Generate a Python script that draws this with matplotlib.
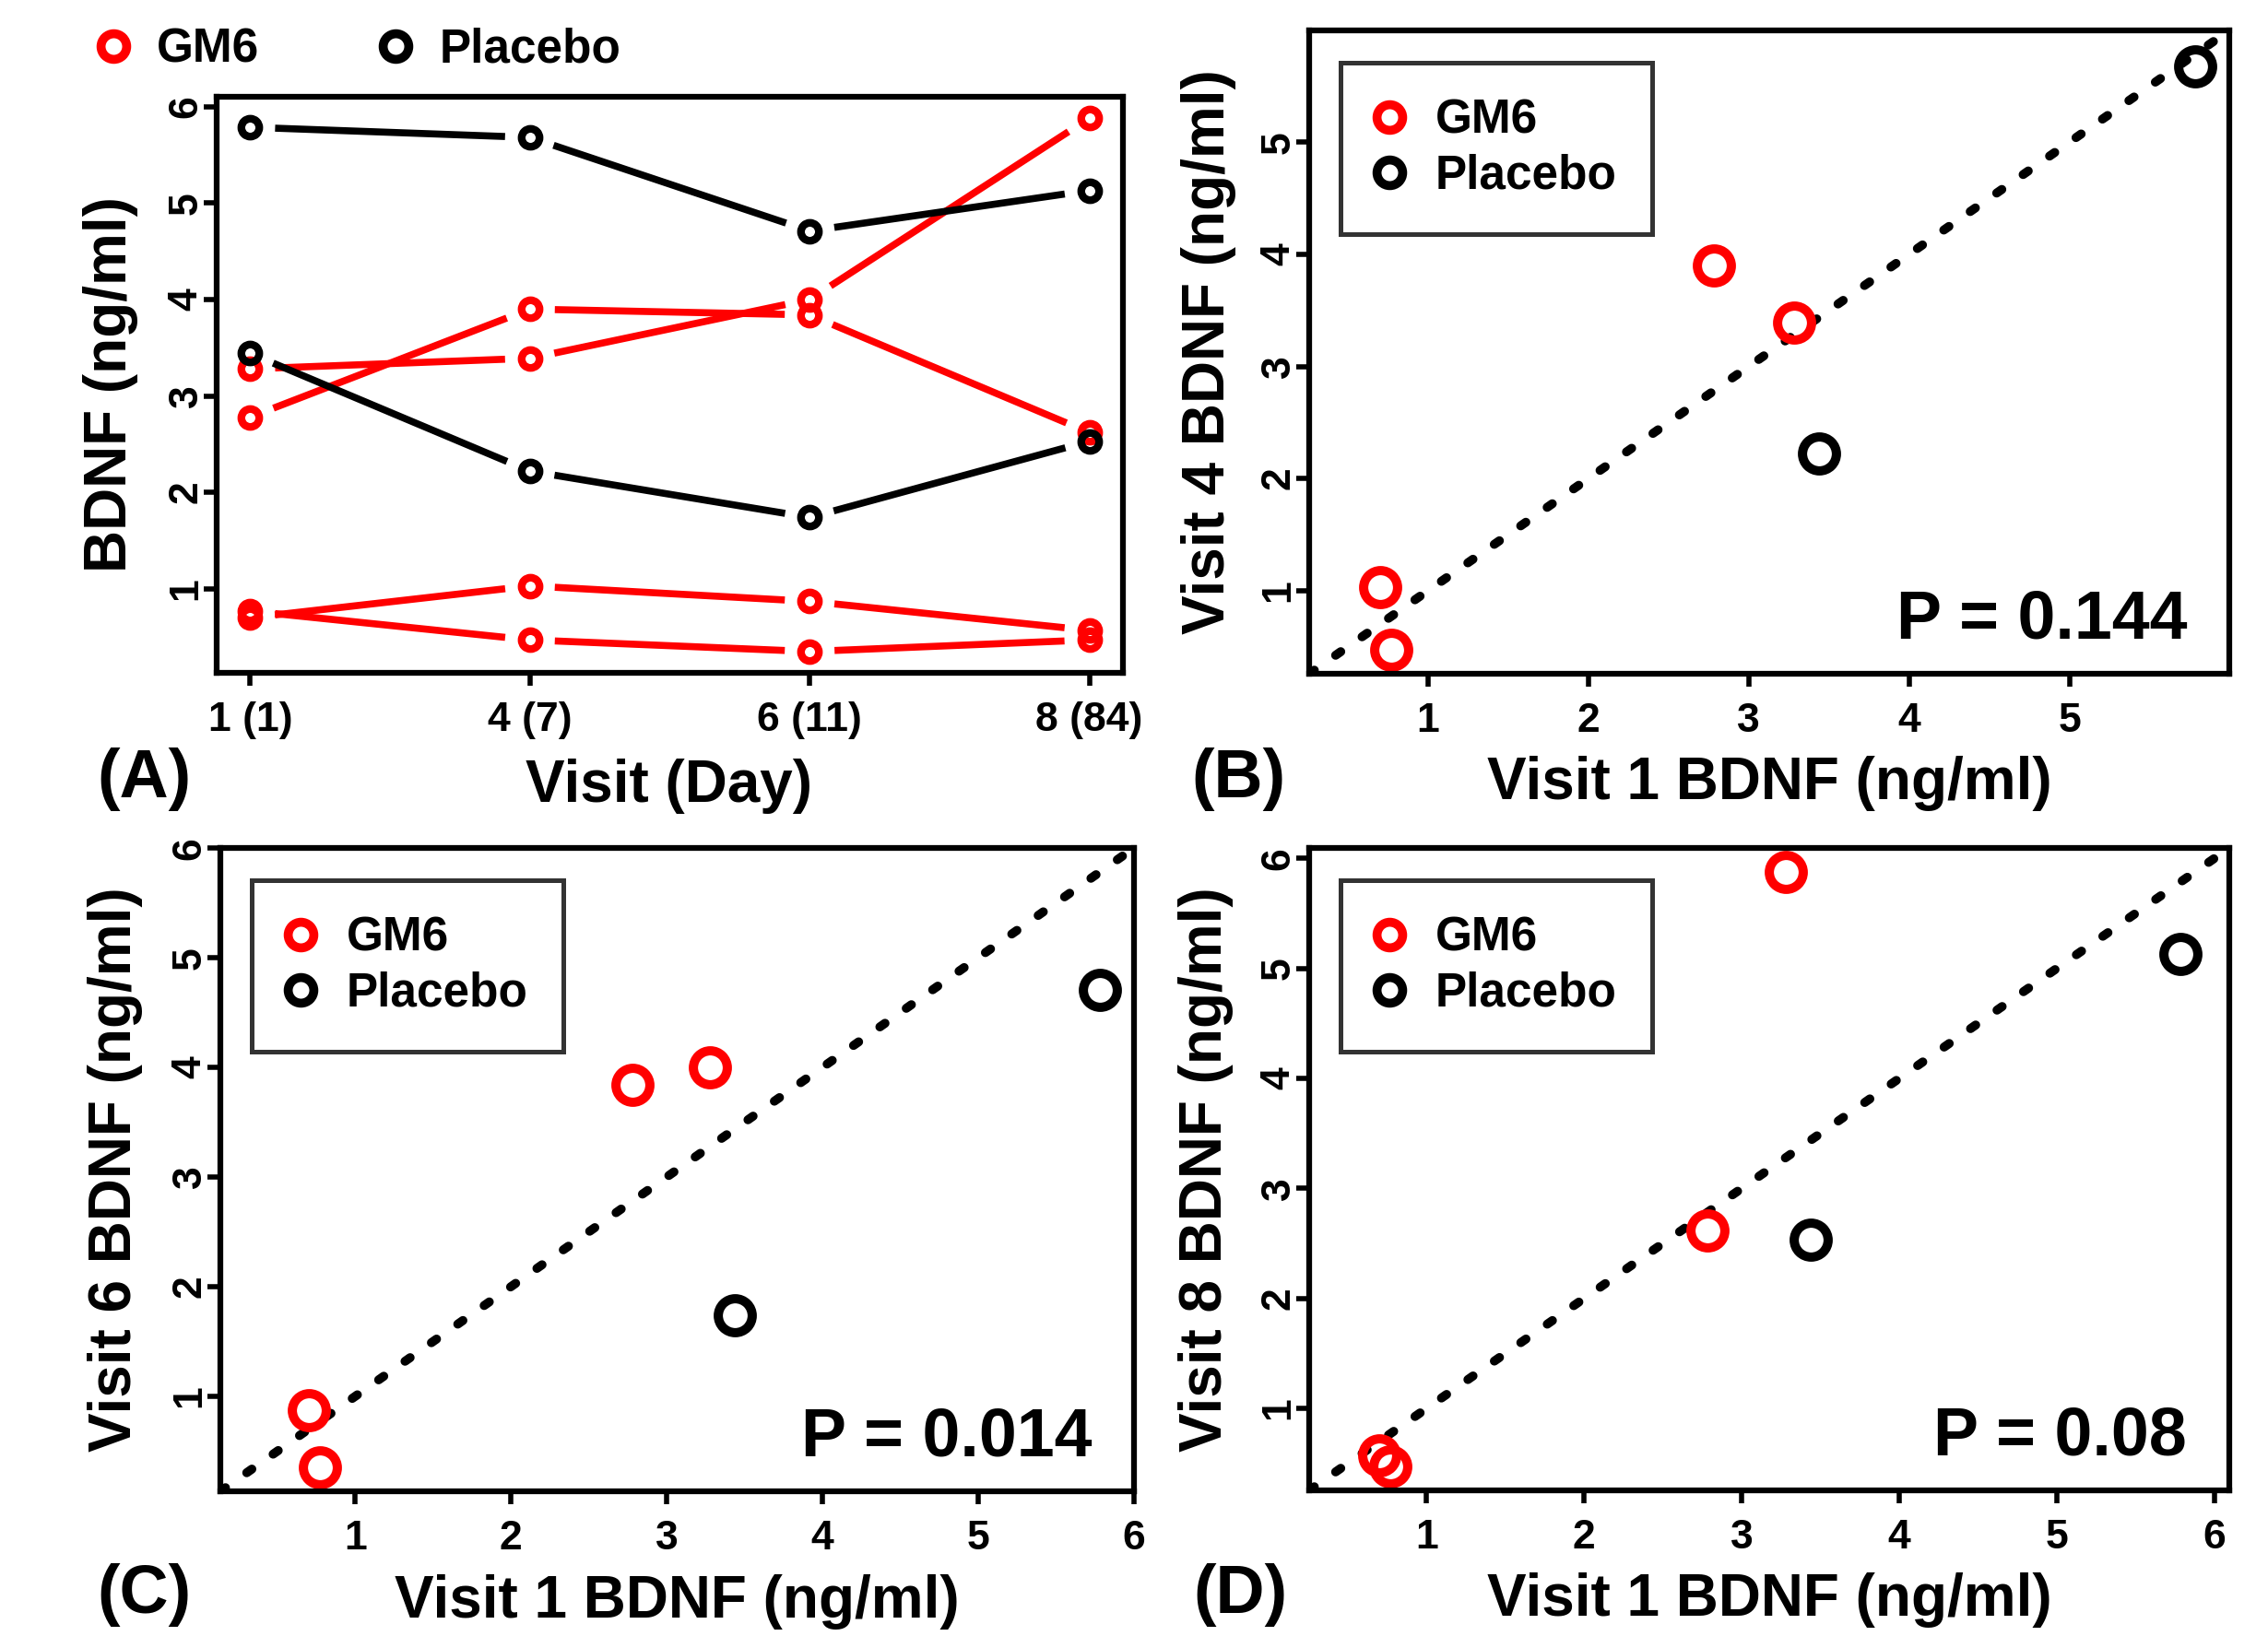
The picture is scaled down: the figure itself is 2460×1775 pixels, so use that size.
import numpy as np
import matplotlib

matplotlib.use('Agg')
import matplotlib.pyplot as plt
from matplotlib.lines import Line2D

plt.rcParams['font.family'] = ['Liberation Sans', 'DejaVu Sans']
plt.rcParams['font.weight'] = 'bold'

# data (ng/ml)
visit_labels = ['1 (1)', '4 (7)', '6 (11)', '8 (84)']
# one row per subject: visit 1, 4, 6, 8
gm6 = [
    [2.78, 3.90, 3.84, 2.62],
    [3.28, 3.39, 4.00, 5.88],
    [0.70, 1.03, 0.87, 0.57],
    [0.77, 0.47, 0.35, 0.47],
]
placebo = [
    [5.785, 5.68, 4.71, 5.13],
    [3.44, 2.22, 1.74, 2.53],
]
p_values = ['P = 0.144', 'P = 0.014', 'P = 0.08']
later_visits = [4, 6, 8]

RED = '#ff0000'
BLACK = '#000000'

W, H = 2460, 1775
fig = plt.figure(figsize=(W / 100, H / 100), dpi=100)


def rect(l, t, r, b):
    return [l / W, 1 - b / H, (r - l) / W, (b - t) / H]


def r_lim(vals):
    lo, hi = min(vals), max(vals)
    pad = 0.04 * (hi - lo)
    return lo - pad, hi + pad


def style(ax):
    for s in ax.spines.values():
        s.set_linewidth(4.5)
    ax.tick_params(axis='both', length=10, width=4, labelsize=32, color='black')
    ax.tick_params(axis='x', pad=12)
    ax.tick_params(axis='y', pad=-1, labelrotation=90)
    for lab in ax.get_yticklabels():
        lab.set_va('center')


def gapped_line(ax, xs, ys, color, gap_px=27):
    # R type="b": segments stop short of the points
    pts = ax.transData.transform(np.column_stack([xs, ys]))
    inv = ax.transData.inverted()
    for p0, p1 in zip(pts[:-1], pts[1:]):
        d = p1 - p0
        L = np.hypot(*d)
        if L <= 2 * gap_px:
            continue
        u = d / L
        seg = inv.transform(np.array([p0 + u * gap_px, p1 - u * gap_px]))
        ax.plot(seg[:, 0], seg[:, 1], color=color, lw=5.5, solid_capstyle='butt')


# ---------- panel A ----------
axA = fig.add_axes(rect(235, 105, 1218, 730))
xpos = np.arange(len(visit_labels))
all_a = [v for row in gm6 + placebo for v in row]
axA.set_xlim(-0.12, 3.12)
axA.set_ylim(*r_lim(all_a))
for row in gm6:
    gapped_line(axA, xpos, row, RED)
    axA.plot(xpos, row, 'o', ms=14, mew=6, mfc='none', mec=RED, clip_on=False)
for row in placebo:
    gapped_line(axA, xpos, row, BLACK)
    axA.plot(xpos, row, 'o', ms=14, mew=6, mfc='none', mec=BLACK, clip_on=False)
axA.set_xticks(xpos)
axA.set_xticklabels(visit_labels)
axA.set_yticks(range(1, 7))
style(axA)

handles = [
    Line2D([], [], ls='none', marker='o', ms=20, mew=7, mfc='none', mec=RED, label='GM6'),
    Line2D([], [], ls='none', marker='o', ms=20, mew=7, mfc='none', mec=BLACK, label='Placebo'),
]
fig.legend(handles=handles, loc='upper left', bbox_to_anchor=(109 / W, 1 - 30 / H),
           ncol=2, frameon=False, borderpad=0, borderaxespad=0, handlelength=0.55,
           handletextpad=0.64, columnspacing=2.6, prop={'size': 37, 'weight': 'bold'})

fig.text(726 / W, 1 - 870 / H, 'Visit (Day)', fontsize=46, ha='center', va='baseline')
fig.text(120 / W, 1 - 417 / H, 'BDNF (ng/ml)', fontsize=46, rotation=90,
         ha='center', va='center')
fig.text(105 / W, 1 - 865 / H, '(A)', fontsize=53, ha='left', va='baseline')

# ---------- scatter panels B, C, D ----------
boxes = [(1420, 33, 2418, 731), (239, 920, 1230, 1618), (1420, 920, 2418, 1617)]
ticks = [range(1, 6), range(1, 7), range(1, 7)]
panel_tags = ['(B)', '(C)', '(D)']
tag_pos = [(1292, 865), (105, 1750), (1294, 1750)]
xlab_base = [867, 1755, 1753]
ylab_off = [109, 114, 112]

for k, vi in enumerate(later_visits):
    l, t, r, b = boxes[k]
    ax = fig.add_axes(rect(l, t, r, b))
    col = k + 1
    x_g = [row[0] for row in gm6]
    y_g = [row[col] for row in gm6]
    x_p = [row[0] for row in placebo]
    y_p = [row[col] for row in placebo]
    lim = r_lim(x_g + y_g + x_p + y_p)
    ax.set_xlim(*lim)
    ax.set_ylim(*lim)
    ax.axline((1, 1), slope=1, color='black', lw=7, ls=(0, (0.7, 2.9)),
              dash_capstyle='round')
    ax.plot(x_g, y_g, 'o', ms=26.5, mew=7.2, mfc='none', mec=RED, clip_on=False)
    ax.plot(x_p, y_p, 'o', ms=26.5, mew=7.2, mfc='none', mec=BLACK, clip_on=False)
    ax.set_xticks(list(ticks[k]))
    ax.set_yticks(list(ticks[k]))
    style(ax)

    w_ax, h_ax = r - l, b - t
    leg = ax.legend(handles=handles, loc='upper left',
                    bbox_to_anchor=(34 / w_ax, 1 - 35 / h_ax), borderaxespad=0,
                    fancybox=False, borderpad=0.75, handlelength=0.55,
                    handletextpad=0.7, labelspacing=0.22,
                    prop={'size': 37, 'weight': 'bold'})
    leg.get_frame().set_edgecolor('black')
    leg.get_frame().set_linewidth(3.6)

    ax.annotate(p_values[k], xy=(1, 0), xycoords='axes fraction',
                xytext=(-33, 28), textcoords='offset points',
                ha='right', va='baseline', fontsize=53)

    fig.text((l + r) / 2 / W, 1 - xlab_base[k] / H, 'Visit 1 BDNF (ng/ml)',
             fontsize=46, ha='center', va='baseline')
    fig.text((l - ylab_off[k]) / W, 1 - (t + b) / 2 / H, f'Visit {vi} BDNF (ng/ml)',
             fontsize=46, rotation=90, ha='center', va='center')
    tx, ty = tag_pos[k]
    fig.text(tx / W, 1 - ty / H, panel_tags[k], fontsize=53, ha='left', va='baseline')

fig.savefig('out.png', dpi=100, facecolor='white')
